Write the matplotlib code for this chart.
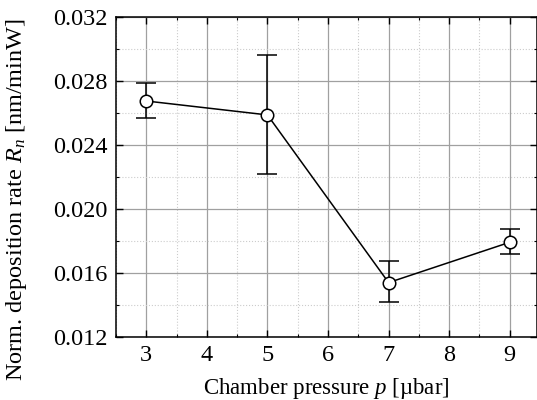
import numpy as np
import matplotlib
matplotlib.use("Agg")
import matplotlib.pyplot as plt
from matplotlib.ticker import MultipleLocator

plt.rcParams['font.family'] = ['Liberation Serif', 'DejaVu Serif']
plt.rcParams['mathtext.fontset'] = 'custom'
plt.rcParams['mathtext.rm'] = 'Liberation Serif'
plt.rcParams['mathtext.it'] = 'Liberation Serif:italic'

# data
pressure = [3, 5, 7, 9]
rate = [0.02675, 0.02588, 0.0154, 0.01792]
err_low = [0.0257, 0.02219, 0.01417, 0.01719]
err_high = [0.02785, 0.02963, 0.01673, 0.01875]

yerr = np.array([np.array(rate) - np.array(err_low),
                 np.array(err_high) - np.array(rate)])

fig = plt.figure(figsize=(5.37, 4.0), dpi=100)
ax = fig.add_axes([0.216, 0.1575, 0.784, 0.80])

ax.errorbar(pressure, rate, yerr=yerr, fmt='-o', color='black', lw=1.1,
            elinewidth=1.1, capsize=7, capthick=1.1,
            markersize=9, markerfacecolor='white', markeredgecolor='black',
            markeredgewidth=1.1, zorder=3)

ax.set_xlim(2.5, 9.45)
ax.set_ylim(0.012, 0.032)
ax.xaxis.set_major_locator(MultipleLocator(1))
ax.xaxis.set_minor_locator(MultipleLocator(0.5))
ax.yaxis.set_major_locator(MultipleLocator(0.004))
ax.yaxis.set_minor_locator(MultipleLocator(0.002))
ax.yaxis.set_major_formatter(plt.FormatStrFormatter('%.3f'))

ax.grid(which='major', color='#a0a0a0', lw=0.9)
ax.grid(which='minor', color='#cccccc', lw=0.8, ls=':')
ax.set_axisbelow(True)

ax.tick_params(which='both', direction='in', top=True, right=True,
               labelsize=17.5, colors='black')
ax.tick_params(which='major', length=5, width=1, pad=6)
ax.tick_params(which='minor', length=2.5, width=0.8)
for s in ax.spines.values():
    s.set_linewidth(1.1)

ax.set_xlabel('Chamber pressure $p$ [µbar]', fontsize=16.5, labelpad=7)
ax.set_ylabel('Norm. deposition rate $R_n$ [nm/minW]', fontsize=17.5)
ax.yaxis.set_label_coords(-0.207, 0.43)

fig.savefig('out.png', dpi=100)
